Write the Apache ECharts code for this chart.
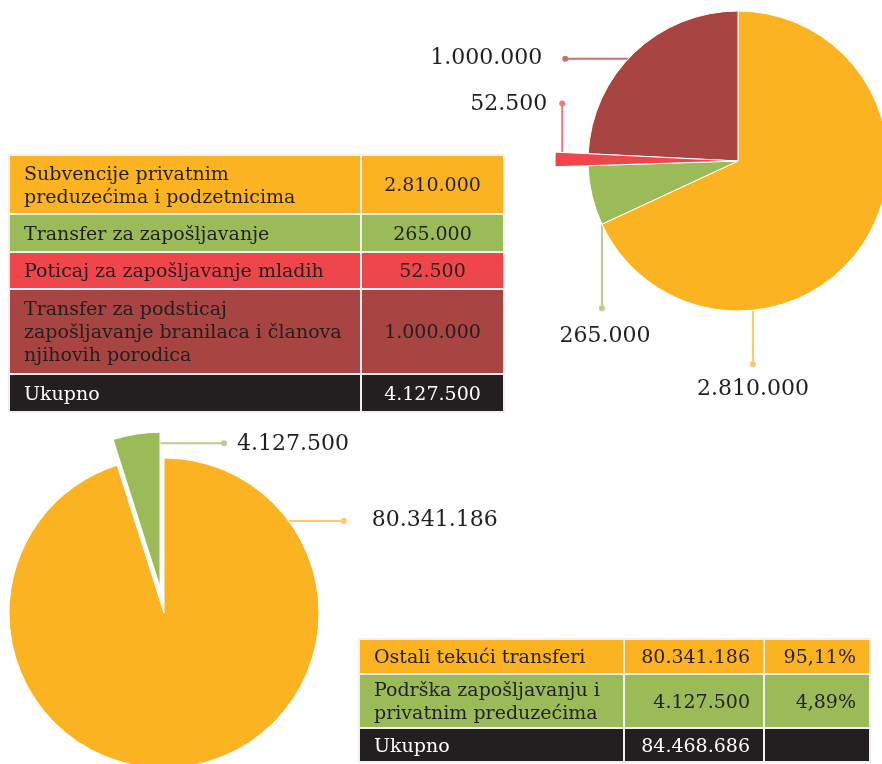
<!DOCTYPE html>
<html>
<head>
<meta charset="utf-8">
<script src="https://cdn.jsdelivr.net/npm/echarts@6/dist/echarts.min.js"></script>
<style>
  body{margin:0;background:#fff;}
  #main{position:absolute;left:0;top:0;width:882px;height:764px;}
  table{position:absolute;border-collapse:collapse;font-family:"DejaVu Serif",serif;font-size:19px;line-height:23px;color:#231F20;}
  td{border:2px solid #f0f0f0;padding:0 14px;box-sizing:border-box;}
  td.num{text-align:center;padding:0 6px;}
  td.r{text-align:right;padding:0 13px 0 6px;}
  tr.total td{background:#231F20;color:#fff;}
  #t1{left:8px;top:154px;width:497px;}
  #t2{left:358px;top:638px;width:513px;}
</style>
</head>
<body>
<div id="main"></div>
<table id="t1"></table>
<table id="t2"></table>
<script>
// podaci - podrska zaposljavanju
let topNames=['Subvencije privatnim\npreduzećima i podzetnicima','Transfer za zapošljavanje','Poticaj za zapošljavanje mladih','Transfer za podsticaj\nzapošljavanje branilaca i članova\nnjihovih porodica']
let topValues=[2810000,265000,52500,1000000]
let topColors=['#FCB322','#9BBB59','#EF464B','#A84442']
let topLineColors=['#FDC96C','#B7CF8E','#F47B78','#C4736F']

// podaci - ukupno
let botNames=['Ostali tekući transferi','Podrška zapošljavanju i\nprivatnim preduzećima']
let botValues=[80341186,4127500]
let botColors=['#FCB322','#9BBB59']
let botLineColors=['#FDC96C','#B7CF8E']

function fmt(v){return String(v).replace(/\B(?=(\d{3})+(?!\d))/g,'.')}
function pct(v,t){return (v/t*100).toFixed(2).replace('.',',')+'%'}
function sum(a){return a.reduce((s,v)=>s+v,0)}
function pt(cx,cy,r,deg){let a=deg*Math.PI/180;return [cx+r*Math.sin(a),cy-r*Math.cos(a)]}
function angles(arr){let t=sum(arr),acc=[0];arr.forEach(v=>acc.push(acc[acc.length-1]+v/t*360));return acc}

//tabele
let topTotal=sum(topValues), botTotal=sum(botValues)
let h1=[59,38,37,85,38]
let t1=''
topNames.forEach((n,i)=>{
  t1+=`<tr style="height:${h1[i]}px;background:${topColors[i]}"><td style="width:352px">${n.replace(/\n/g,'<br>')}</td><td class="num">${fmt(topValues[i])}</td></tr>`
})
t1+=`<tr class="total" style="height:${h1[4]}px"><td>Ukupno</td><td class="num">${fmt(topTotal)}</td></tr>`
document.getElementById('t1').innerHTML=t1

let h2=[35,54,34]
let t2=''
botNames.forEach((n,i)=>{
  t2+=`<tr style="height:${h2[i]}px;background:${botColors[i]}"><td style="width:265px">${n.replace(/\n/g,'<br>')}</td><td class="r" style="width:140px">${fmt(botValues[i])}</td><td class="r">${pct(botValues[i],botTotal)}</td></tr>`
})
t2+=`<tr class="total" style="height:${h2[2]}px"><td>Ukupno</td><td class="r">${fmt(botTotal)}</td><td></td></tr>`
document.getElementById('t2').innerHTML=t2

// geometrija pita
let topC=[738,161], topR=150, redR=183
let botC=[164,613], botR=155, botOff=26
let ta=angles(topValues), ba=angles(botValues)
let greenMid=(ba[1]+ba[2])/2
let botC2=pt(botC[0],botC[1],botOff,greenMid)

function lbl(start,dir,len,dx,dy,align){
  let end=[start[0]+dir[0]*len,start[1]+dir[1]*len]
  return {start,end,x:end[0]+dx,y:end[1]+dy,align}
}
let topLbl=[
  lbl(pt(topC[0],topC[1],topR,174.3),[0,1],54,0,25,'center'),
  lbl(pt(topC[0],topC[1],topR,ta[1]),[0,1],84,3,28,'center'),
  lbl(pt(topC[0],topC[1],176,ta[3]),[0,-1],49,-15,1,'right'),
  lbl(pt(topC[0],topC[1],topR,313),[-1,0],63,-23,0,'right')
]
let botLbl=[
  lbl(pt(botC[0],botC[1],botR,53.6),[1,0],55,28,-1,'left'),
  lbl(pt(botC2[0],botC2[1],144,360),[1,0],64,13,1,'left')
]

function layoutFn(specs){
  return function(p){
    let s=specs[p.dataIndex]
    return {x:s.x,y:s.y,align:s.align,verticalAlign:'middle',labelLinePoints:[s.start,s.end,s.end]}
  }
}
let hidden={itemStyle:{color:'transparent',borderWidth:0},label:{show:false},labelLine:{show:false}}
function items(values,colors,lines,visible){
  return values.map((v,i)=>{
    if(!visible.includes(i)) return Object.assign({value:v},hidden)
    return {value:v,itemStyle:{color:colors[i]},labelLine:{lineStyle:{color:lines[i]}}}
  })
}
let labelStyle={show:true,position:'outside',formatter:p=>fmt(p.value),fontFamily:'DejaVu Serif',fontSize:22,color:'#231F20'}
let base={type:'pie',silent:true,animation:false,avoidLabelOverlap:false,
  itemStyle:{borderColor:'#fff',borderWidth:1},
  label:labelStyle,labelLine:{show:true,length:0,length2:10,lineStyle:{width:2}}}

let dots=[]
topLbl.forEach((s,i)=>dots.push({type:'circle',shape:{cx:s.end[0],cy:s.end[1],r:3},style:{fill:topLineColors[i]}}))
botLbl.forEach((s,i)=>dots.push({type:'circle',shape:{cx:s.end[0],cy:s.end[1],r:3},style:{fill:botLineColors[i]}}))

var myChart=echarts.init(document.getElementById('main'))
option={
  backgroundColor:'#fff',
  graphic:dots,
  series:[
    Object.assign({},base,{center:topC,radius:topR,data:items(topValues,topColors,topLineColors,[0,1,3]),labelLayout:layoutFn(topLbl)}),
    Object.assign({},base,{center:topC,radius:redR,data:items(topValues,topColors,topLineColors,[2]),labelLayout:layoutFn(topLbl)}),
    Object.assign({},base,{center:botC,radius:botR,data:items(botValues,botColors,botLineColors,[0]),labelLayout:layoutFn(botLbl)}),
    Object.assign({},base,{center:botC2,radius:botR,data:items(botValues,botColors,botLineColors,[1]),labelLayout:layoutFn(botLbl)})
  ]
}
myChart.setOption(option)
</script>
</body>
</html>
